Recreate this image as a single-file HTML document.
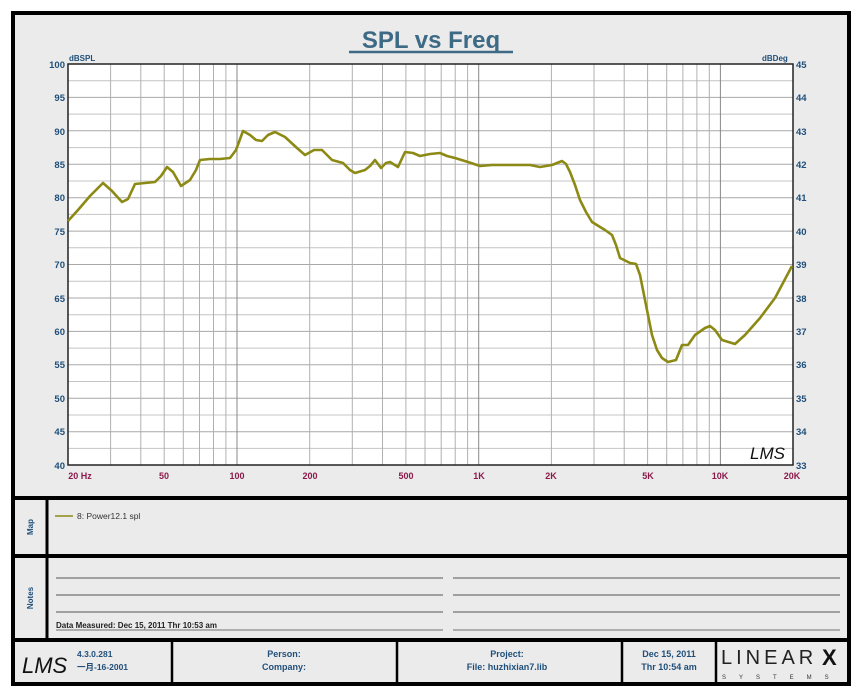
<!DOCTYPE html>
<html><head><meta charset="utf-8"><style>
html,body{margin:0;padding:0;background:#fff;}
svg{display:block;}
text{font-family:"Liberation Sans","Noto Sans CJK SC",sans-serif;}
</style></head><body>
<svg width="862" height="690" viewBox="0 0 862 690" xmlns="http://www.w3.org/2000/svg">
<rect x="0" y="0" width="862" height="690" fill="#fff"/>
<rect x="13" y="13" width="836" height="671" fill="#ebebeb" stroke="#000" stroke-width="4"/>
<text x="431" y="48" text-anchor="middle" font-size="24" font-weight="bold" fill="#3d6a85">SPL vs Freq</text>
<line x1="349" y1="52" x2="513" y2="52" stroke="#3d6a85" stroke-width="2.5"/>
<rect x="68" y="64" width="725" height="401" fill="#fff"/>
<g stroke="#c4c4c4" stroke-width="1">
<line x1="68" y1="80.7" x2="793" y2="80.7"/><line x1="68" y1="114.1" x2="793" y2="114.1"/><line x1="68" y1="147.6" x2="793" y2="147.6"/><line x1="68" y1="181" x2="793" y2="181"/><line x1="68" y1="214.4" x2="793" y2="214.4"/><line x1="68" y1="247.8" x2="793" y2="247.8"/><line x1="68" y1="281.3" x2="793" y2="281.3"/><line x1="68" y1="314.7" x2="793" y2="314.7"/><line x1="68" y1="348.1" x2="793" y2="348.1"/><line x1="68" y1="381.5" x2="793" y2="381.5"/><line x1="68" y1="415" x2="793" y2="415"/><line x1="68" y1="448.4" x2="793" y2="448.4"/>
</g>
<g stroke="#a8a8a8" stroke-width="1">
<line x1="68" y1="97.4" x2="793" y2="97.4"/><line x1="68" y1="130.8" x2="793" y2="130.8"/><line x1="68" y1="164.3" x2="793" y2="164.3"/><line x1="68" y1="197.7" x2="793" y2="197.7"/><line x1="68" y1="231.1" x2="793" y2="231.1"/><line x1="68" y1="264.5" x2="793" y2="264.5"/><line x1="68" y1="298" x2="793" y2="298"/><line x1="68" y1="331.4" x2="793" y2="331.4"/><line x1="68" y1="364.8" x2="793" y2="364.8"/><line x1="68" y1="398.2" x2="793" y2="398.2"/><line x1="68" y1="431.7" x2="793" y2="431.7"/>
</g>
<g stroke="#b0b0b0" stroke-width="1">
<line x1="110.6" y1="64" x2="110.6" y2="465"/><line x1="140.8" y1="64" x2="140.8" y2="465"/><line x1="164.2" y1="64" x2="164.2" y2="465"/><line x1="183.3" y1="64" x2="183.3" y2="465"/><line x1="199.5" y1="64" x2="199.5" y2="465"/><line x1="213.5" y1="64" x2="213.5" y2="465"/><line x1="225.9" y1="64" x2="225.9" y2="465"/>
<line x1="309.7" y1="64" x2="309.7" y2="465"/><line x1="352.3" y1="64" x2="352.3" y2="465"/><line x1="382.5" y1="64" x2="382.5" y2="465"/><line x1="405.9" y1="64" x2="405.9" y2="465"/><line x1="425" y1="64" x2="425" y2="465"/><line x1="441.2" y1="64" x2="441.2" y2="465"/><line x1="455.2" y1="64" x2="455.2" y2="465"/><line x1="467.6" y1="64" x2="467.6" y2="465"/>
<line x1="551.4" y1="64" x2="551.4" y2="465"/><line x1="594" y1="64" x2="594" y2="465"/><line x1="624.2" y1="64" x2="624.2" y2="465"/><line x1="647.6" y1="64" x2="647.6" y2="465"/><line x1="666.7" y1="64" x2="666.7" y2="465"/><line x1="682.9" y1="64" x2="682.9" y2="465"/><line x1="696.9" y1="64" x2="696.9" y2="465"/><line x1="709.3" y1="64" x2="709.3" y2="465"/>
</g>
<g stroke="#888" stroke-width="1">
<line x1="237" y1="64" x2="237" y2="465"/><line x1="478.7" y1="64" x2="478.7" y2="465"/><line x1="720.4" y1="64" x2="720.4" y2="465"/>
</g>
<rect x="68" y="64" width="725" height="401" fill="none" stroke="#222" stroke-width="1.5"/>
<path d="M68,221 L78,210 L90,196 L103,183 L112,191 L122,202 L128,199 L135,184 L145,183 L155,182 L161,176 L167,167 L173,172 L181,186 L190,180 L196,170 L200,160 L210,159 L220,159 L230,158 L236,150 L243,131 L250,135 L256,140 L262,141 L268,135 L275,132 L285,137 L297,148 L305,155 L314,150 L322,150 L332,160 L343,163 L350,170 L355,173 L365,170 L370,166 L375,160 L381,168 L386,163 L390,162 L398,167 L405,152 L413,153 L420,156 L430,154 L440,153 L447,156 L455,158 L468,162 L480,166 L492,165 L510,165 L530,165 L540,167 L552,165 L562,161 L566,164 L570,172 L575,185 L580,200 L586,212 L592,222 L605,230 L612,235 L616,245 L620,258 L630,263 L636,264 L640,275 L645,300 L652,335 L657,350 L662,358 L668,362 L676,360 L682,345 L688,345 L695,335 L705,328 L710,326 L715,330 L722,340 L735,344 L745,335 L760,318 L775,298 L792,266" fill="none" stroke="#8c8a14" stroke-width="2.6" stroke-linejoin="round"/>
<g font-size="9.5" font-weight="bold" fill="#1f4f7a" text-anchor="end">
<text x="65" y="68">100</text><text x="65" y="101">95</text><text x="65" y="135">90</text><text x="65" y="168">85</text><text x="65" y="201">80</text><text x="65" y="235">75</text><text x="65" y="268">70</text><text x="65" y="302">65</text><text x="65" y="335">60</text><text x="65" y="368">55</text><text x="65" y="402">50</text><text x="65" y="435">45</text><text x="65" y="469">40</text>
</g>
<g font-size="9.5" font-weight="bold" fill="#1f4f7a">
<text x="796" y="68">45</text><text x="796" y="101">44</text><text x="796" y="135">43</text><text x="796" y="168">42</text><text x="796" y="201">41</text><text x="796" y="235">40</text><text x="796" y="268">39</text><text x="796" y="302">38</text><text x="796" y="335">37</text><text x="796" y="368">36</text><text x="796" y="402">35</text><text x="796" y="435">34</text><text x="796" y="469">33</text>
</g>
<text x="69" y="61" font-size="8" font-weight="bold" fill="#1f4f7a">dBSPL</text>
<text x="762" y="61" font-size="8" font-weight="bold" fill="#1f4f7a">dBDeg</text>
<g font-size="9" font-weight="bold" fill="#8b1a4a" text-anchor="middle">
<text x="80" y="479">20  Hz</text><text x="164" y="479">50</text><text x="237" y="479">100</text><text x="310" y="479">200</text><text x="406" y="479">500</text><text x="479" y="479">1K</text><text x="551" y="479">2K</text><text x="648" y="479">5K</text><text x="720" y="479">10K</text><text x="792" y="479">20K</text>
</g>
<text x="750" y="459" font-size="17" font-style="italic" fill="#111" font-family="Liberation Serif, serif">LMS</text>
<!-- dividers -->
<line x1="13" y1="498" x2="849" y2="498" stroke="#000" stroke-width="4"/>
<line x1="13" y1="556" x2="849" y2="556" stroke="#000" stroke-width="4"/>
<line x1="13" y1="640" x2="849" y2="640" stroke="#000" stroke-width="4"/>
<line x1="47" y1="498" x2="47" y2="640" stroke="#000" stroke-width="3"/>
<text transform="translate(33,527) rotate(-90)" text-anchor="middle" font-size="8" font-weight="bold" fill="#1f4f7a">Map</text>
<text transform="translate(33,598) rotate(-90)" text-anchor="middle" font-size="8" font-weight="bold" fill="#1f4f7a">Notes</text>
<line x1="55" y1="516" x2="73" y2="516" stroke="#8c8a14" stroke-width="1.5"/>
<text x="77" y="519" font-size="8.5" fill="#333">8: Power12.1  spl</text>
<g stroke="#555" stroke-width="1">
<line x1="56" y1="578" x2="443" y2="578"/><line x1="56" y1="595" x2="443" y2="595"/><line x1="56" y1="612" x2="443" y2="612"/>
<line x1="453" y1="578" x2="840" y2="578"/><line x1="453" y1="595" x2="840" y2="595"/><line x1="453" y1="612" x2="840" y2="612"/>
</g>
<g stroke="#999" stroke-width="1.5">
<line x1="56" y1="630" x2="443" y2="630"/><line x1="453" y1="630" x2="840" y2="630"/>
</g>
<text x="56" y="628" font-size="8" font-weight="bold" fill="#222">Data Measured: Dec 15, 2011  Thr 10:53 am</text>
<g stroke="#000" stroke-width="2.5">
<line x1="172" y1="640" x2="172" y2="684"/><line x1="397" y1="640" x2="397" y2="684"/><line x1="622" y1="640" x2="622" y2="684"/><line x1="716" y1="640" x2="716" y2="684"/>
</g>
<text x="22" y="673" font-size="22" font-style="italic" fill="#111" font-family="Liberation Serif, serif">LMS</text>
<g font-size="8.5" font-weight="bold" fill="#1f4f7a">
<text x="77" y="657">4.3.0.281</text><text x="77" y="670">一月-16-2001</text>
</g>
<g font-size="9" font-weight="bold" fill="#1f4f7a" text-anchor="middle">
<text x="284" y="657">Person:</text><text x="284" y="670">Company:</text>
<text x="507" y="657">Project:</text><text x="507" y="670">File: huzhixian7.lib</text>
<text x="669" y="657">Dec 15, 2011</text><text x="669" y="670">Thr 10:54 am</text>
</g>
<text x="721" y="664" font-size="20" fill="#222" font-family="Liberation Serif, serif" letter-spacing="4">LINEAR</text>
<text x="822" y="665" font-size="22" font-weight="bold" fill="#111">X</text>
<text x="722" y="679" font-size="6" fill="#333" letter-spacing="13">SYSTEMS</text>
</svg>
</body></html>
